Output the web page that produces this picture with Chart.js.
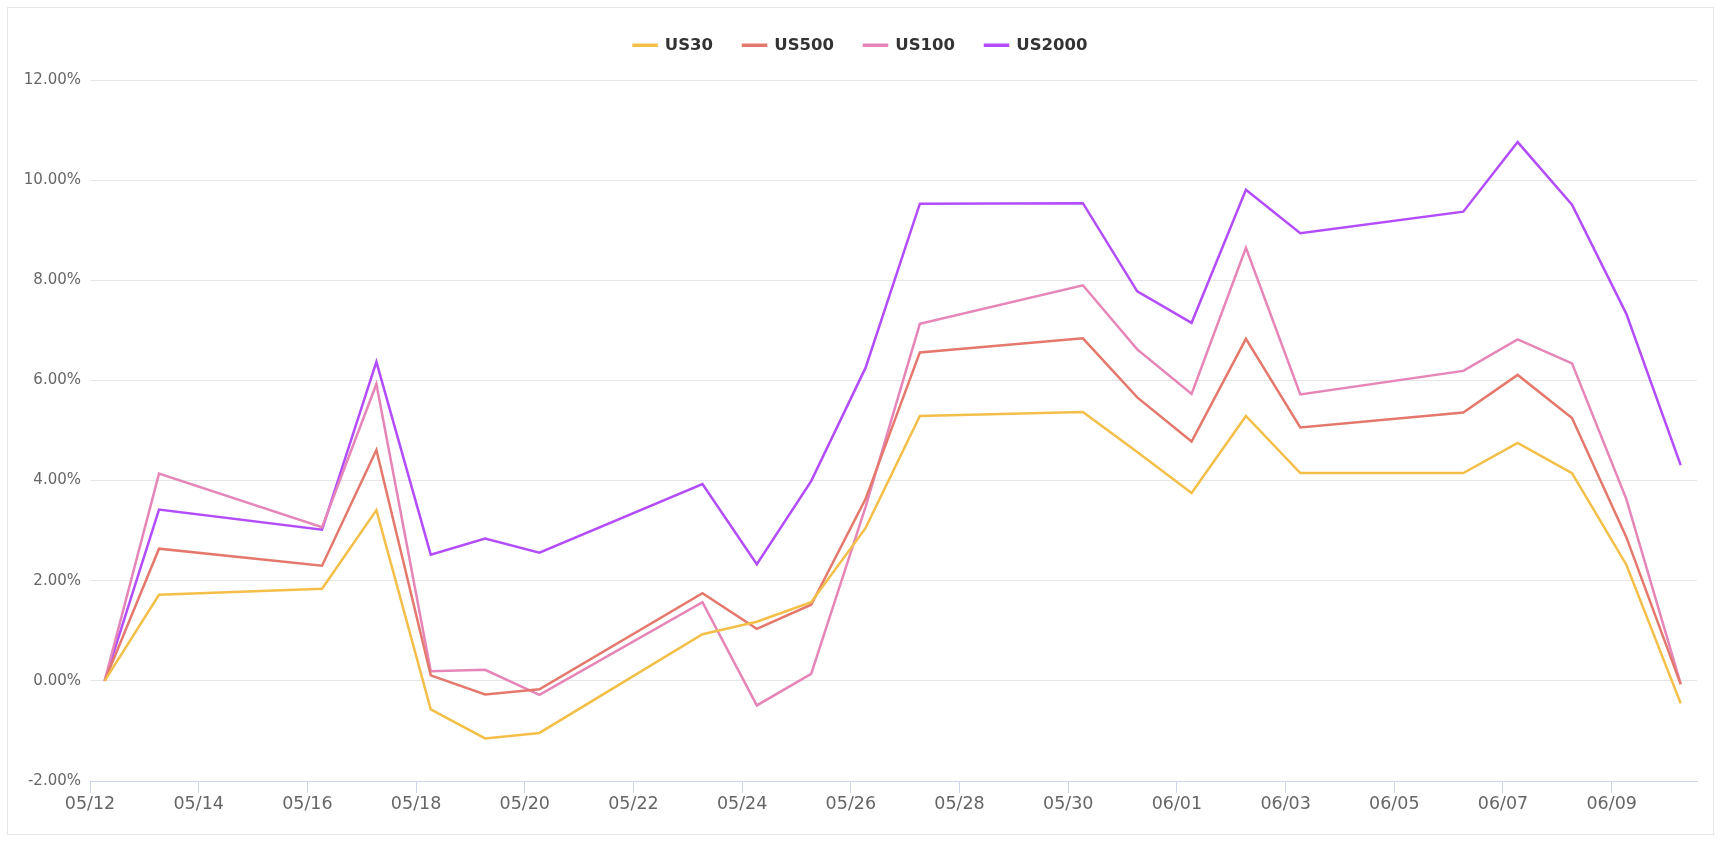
<!DOCTYPE html>
<html>
<head>
<meta charset="utf-8">
<script src="https://cdn.jsdelivr.net/npm/chart.js@4/dist/chart.umd.min.js"></script>
<style>
  html, body { margin: 0; padding: 0; background: #fff; }
  #frame {
    position: absolute; left: 7px; top: 7px;
    width: 1707px; height: 828px;
    border: 1px solid #e6e6e6; box-sizing: border-box;
  }
  #wrap { position: relative; width: 1705px; height: 826px; }
</style>
</head>
<body>
<div id="frame"><div id="wrap"><canvas id="chart"></canvas></div></div>
<script>
const dates = ["05/12", "05/13", "05/16", "05/17", "05/18", "05/19", "05/20", "05/23", "05/24", "05/25",
  "05/26", "05/27", "05/30", "05/31", "06/01", "06/02", "06/03", "06/06", "06/07", "06/08", "06/09", "06/10"];
const xTickLabels = ["05/12", "05/14", "05/16", "05/18", "05/20", "05/22", "05/24", "05/26",
  "05/28", "05/30", "06/01", "06/03", "06/05", "06/07", "06/09"];

const us30 = [0, 1.72, 1.84, 3.41, -0.57, -1.15, -1.04, 0.93, 1.18, 1.57, 3.05, 5.29, 5.37, 4.57, 3.75,
  5.29, 4.15, 4.15, 4.75, 4.15, 2.32, -0.45];
const us500 = [0, 2.64, 2.30, 4.61, 0.11, -0.27, -0.17, 1.75, 1.04, 1.52, 3.63, 6.56, 6.84, 5.66, 4.78,
  6.83, 5.06, 5.36, 6.11, 5.25, 2.87, -0.07];
const us100 = [0, 4.14, 3.07, 5.93, 0.19, 0.22, -0.28, 1.57, -0.49, 0.14, 3.47, 7.13, 7.90, 6.62, 5.73,
  8.65, 5.72, 6.19, 6.82, 6.34, 3.63, -0.06];
const us2000 = [0, 3.42, 3.02, 6.37, 2.52, 2.84, 2.56, 3.93, 2.33, 3.99, 6.25, 9.53, 9.54, 7.78, 7.15,
  9.81, 8.94, 9.37, 10.76, 9.51, 7.33, 4.31];

const yTicks = [-2, 0, 2, 4, 6, 8, 10, 12];

// day number counted from 05/12 (2022)
const DAY = 86400000;
const base = Date.UTC(2022, 4, 12);
function toDay(label) {
  const [m, d] = label.split("/").map(Number);
  return (Date.UTC(2022, m - 1, d) - base) / DAY;
}
function fromDay(v) {
  const dt = new Date(base + Math.round(v) * DAY);
  const mm = String(dt.getUTCMonth() + 1).padStart(2, "0");
  const dd = String(dt.getUTCDate()).padStart(2, "0");
  return mm + "/" + dd;
}

const pointTime = 0.27; // points sit a little after midnight
const xs = dates.map((d) => toDay(d) + pointTime);

function series(label, values, color) {
  return {
    label: label,
    data: values.map((v, i) => ({ x: xs[i], y: v })),
    borderColor: color,
    backgroundColor: color,
    borderWidth: 2.5,
    pointRadius: 0,
    tension: 0,
  };
}

const font = "'DejaVu Sans', sans-serif";

// more room under the legend, and nudge the row a bit to the right
const legendGap = {
  id: "legendGap",
  beforeInit(chart) {
    const fit = chart.legend.fit;
    chart.legend.fit = function () {
      fit.call(this);
      this.height += 16.5;
      if (this.lineWidths && this.lineWidths.length) this.lineWidths[0] -= 16;
    };
  },
};

new Chart(document.getElementById("chart"), {
  type: "line",
  data: {
    datasets: [
      series("US30", us30, "#f3bf48"),
      series("US500", us500, "#e4786c"),
      series("US100", us100, "#e585b8"),
      series("US2000", us2000, "#b34dfb"),
    ],
  },
  plugins: [legendGap],
  options: {
    responsive: true,
    maintainAspectRatio: false,
    animation: false,
    layout: { padding: { top: -1, right: 16, left: 0, bottom: 0 } },
    plugins: {
      legend: {
        position: "top",
        labels: {
          boxWidth: 23,
          boxHeight: 1,
          padding: 30,
          color: "#333",
          font: { family: font, size: 16.5, weight: "bold" },
        },
      },
      tooltip: { enabled: false },
    },
    scales: {
      x: {
        type: "linear",
        min: 0,
        max: toDay("06/10") + 0.57,
        afterFit(scale) { scale.height = 53; },
        afterBuildTicks(scale) {
          scale.ticks = xTickLabels.map((l) => ({ value: toDay(l) }));
        },
        grid: { drawOnChartArea: false, drawTicks: true, tickLength: 12, color: "#ccd6eb" },
        border: { color: "#ccd6eb", width: 1 },
        ticks: {
          autoSkip: false,
          maxRotation: 0,
          padding: 1,
          color: "#666",
          font: { family: font, size: 17.5 },
          callback: (v) => fromDay(v),
        },
      },
      y: {
        min: yTicks[0],
        max: yTicks[yTicks.length - 1],
        afterFit(scale) { scale.width = 82; },
        grid: { color: "#e6e6e6", drawTicks: false },
        border: { display: false },
        ticks: {
          stepSize: 2,
          padding: 9,
          color: "#666",
          font: { family: font, size: 15 },
          callback: (v) => v.toFixed(2) + "%",
        },
      },
    },
  },
});
</script>
</body>
</html>
